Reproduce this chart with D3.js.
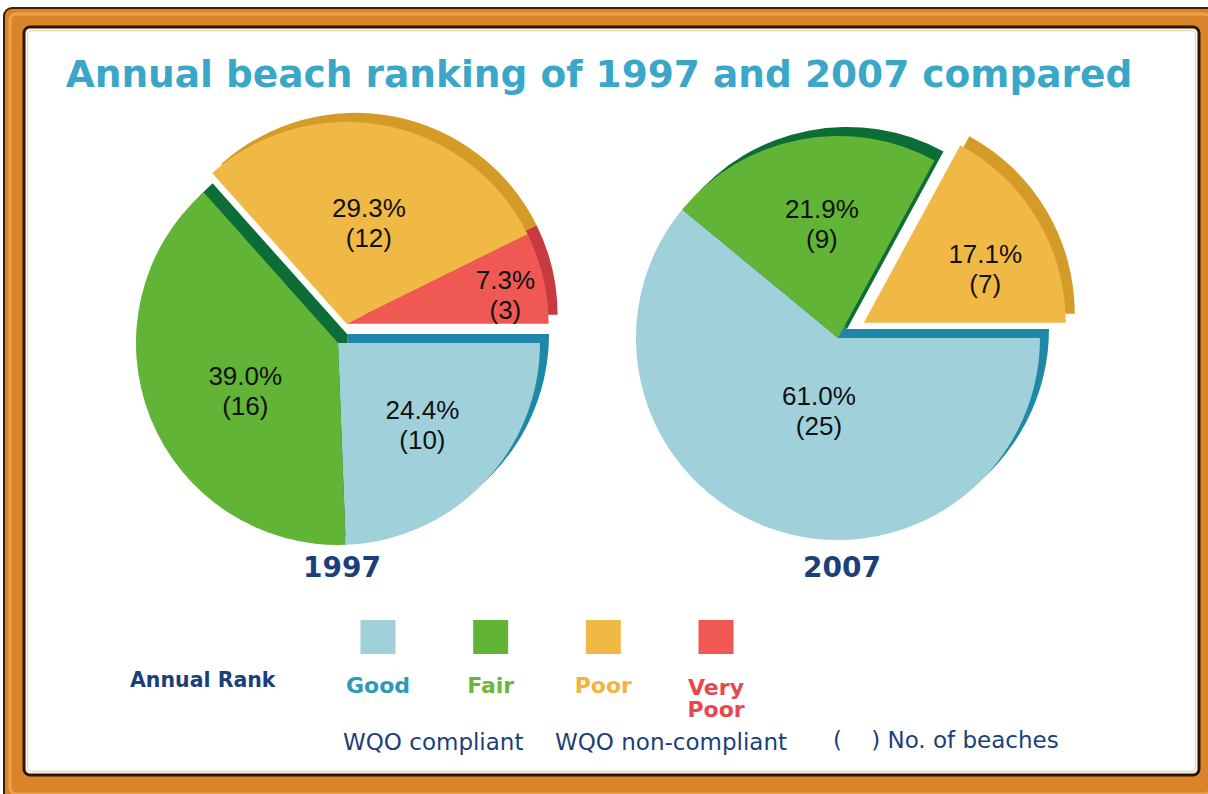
<!DOCTYPE html>
<html><head><meta charset="utf-8">
<script src="https://cdn.jsdelivr.net/npm/d3@7"></script>
<style>body{margin:0;background:#fff}svg{display:block}</style>
</head><body>
<script>
// ---- data ----
const title = "Annual beach ranking of 1997 and 2007 compared";
const categories = ["Good", "Fair", "Poor", "Very Poor"];
const years = ["1997", "2007"];
const percents1997 = [24.4, 39.0, 29.3, 7.3];
const counts1997 = [10, 16, 12, 3];
const percents2007 = [61.0, 21.9, 17.1, 0];
const counts2007 = [25, 9, 7, 0];
const nonCompliant = ["Poor", "Very Poor"];
const compliance = ["WQO compliant", "WQO non-compliant"];
const legendTitle = "Annual Rank";
const countNote = "(    ) No. of beaches";

// ---- styles / layout ----
const W = 1208, H = 794;
const fillColor = d3.scaleOrdinal().domain(categories).range(["#a0d0da", "#62b436", "#f0b845", "#ef5853"]);
const sideColor = d3.scaleOrdinal().domain(categories).range(["#1f87a7", "#0d6d36", "#d49b27", "#c63a40"]);
const legendColor = d3.scaleOrdinal().domain(categories).range(["#2d9bb8", "#6cb63b", "#f2b43a", "#e8474d"]);
const navy = "#1b3f7a";
const R = 202, depth = 9;
// label placement per category: [radius factor, angle nudge in degrees]
const pieLayout = [
  {cx: 338, cy: 343, explode: 21, label: [[0.58, 0], [0.515, -5], [0.515, 1.4], [0.80, 2.5]]},
  {cx: 838, cy: 338, explode: 30, label: [[0.37, -5], [0.575, 3], [0.66, 6.4], [0.6, 0]]}
];
const pieData = [
  {year: years[0], pct: percents1997, cnt: counts1997},
  {year: years[1], pct: percents2007, cnt: counts2007}
];

const svg = d3.select("body").append("svg").attr("width", W).attr("height", H);

// ---- frame ----
svg.append("rect").attr("x", 4).attr("y", 8).attr("width", 1214).attr("height", 800).attr("rx", 8)
  .attr("fill", "#d9842b").attr("stroke", "#3b2008").attr("stroke-width", 2);
svg.append("rect").attr("x", 10).attr("y", 14).attr("width", 1200).attr("height", 780).attr("rx", 6)
  .attr("fill", "none").attr("stroke", "#efaa56").attr("stroke-width", 3).attr("opacity", 0.8);
svg.append("rect").attr("x", 24).attr("y", 27).attr("width", 1175).attr("height", 748).attr("rx", 6)
  .attr("fill", "#fff").attr("stroke", "#2a1606").attr("stroke-width", 3);
svg.append("rect").attr("x", 27.5).attr("y", 30.5).attr("width", 1168).attr("height", 741).attr("rx", 4)
  .attr("fill", "none").attr("stroke", "#f3d6a6").attr("stroke-width", 1.5);

// ---- title ----
svg.append("text").attr("x", 599).attr("y", 87).attr("text-anchor", "middle")
  .attr("font-family", "DejaVu Sans").attr("font-weight", "bold").attr("font-size", 37.5)
  .attr("fill", "#3aa7c9").text(title);

// ---- pies ----
const pie = d3.pie().sort(null).value(d => d.count).startAngle(Math.PI / 2).endAngle(Math.PI / 2 + 2 * Math.PI);
const arc = d3.arc().innerRadius(0).outerRadius(R);

pieData.forEach((pd, i) => {
  const L = pieLayout[i];
  const rows = categories.map((c, k) => ({cat: c, pct: pd.pct[k], count: pd.cnt[k], idx: k})).filter(d => d.count > 0);
  const arcs = pie(rows);
  const grp = arcs.filter(a => nonCompliant.includes(a.data.cat));
  const gm = (d3.min(grp, a => a.startAngle) + d3.max(grp, a => a.endAngle)) / 2;
  const ex = Math.sin(gm) * L.explode, ey = -Math.cos(gm) * L.explode;
  const off = a => nonCompliant.includes(a.data.cat) ? [ex, ey] : [0, 0];

  const g = svg.append("g").attr("transform", `translate(${L.cx},${L.cy})`);
  g.selectAll("path.side").data(arcs).join("path").attr("class", "side")
    .attr("d", arc).attr("fill", d => sideColor(d.data.cat))
    .attr("transform", d => { const o = off(d); return `translate(${o[0] + depth},${o[1] - depth})`; });
  g.selectAll("path.face").data(arcs).join("path").attr("class", "face")
    .attr("d", arc).attr("fill", d => fillColor(d.data.cat))
    .attr("transform", d => { const o = off(d); return `translate(${o[0]},${o[1]})`; });
  arcs.forEach(a => {
    const o = off(a);
    const lp = L.label[a.data.idx];
    const m = (a.startAngle + a.endAngle) / 2 + lp[1] * Math.PI / 180;
    const r = R * lp[0];
    const x = o[0] + Math.sin(m) * r, y = o[1] - Math.cos(m) * r;
    const t = g.append("text").attr("text-anchor", "middle")
      .attr("font-family", "Liberation Sans, Arial").attr("font-size", 26).attr("fill", "#111");
    t.append("tspan").attr("x", x).attr("y", y - 5).text(d3.format(".1f")(a.data.pct) + "%");
    t.append("tspan").attr("x", x).attr("y", y + 25).text(`(${a.data.count})`);
  });
  svg.append("text").attr("x", L.cx + 4).attr("y", 577).attr("text-anchor", "middle")
    .attr("font-family", "DejaVu Sans").attr("font-weight", "bold").attr("font-size", 28)
    .attr("fill", navy).text(pd.year);
});

// ---- legend ----
const lx = d3.scalePoint().domain(categories).range([378, 716]);
svg.selectAll("rect.leg").data(categories).join("rect").attr("class", "leg")
  .attr("x", d => lx(d) - 17.5).attr("y", 620).attr("width", 35).attr("height", 34)
  .attr("fill", d => fillColor(d));
categories.forEach(c => {
  const words = c.split(" ");
  const t = svg.append("text").attr("text-anchor", "middle").attr("font-family", "DejaVu Sans")
    .attr("font-weight", "bold").attr("font-size", 22).attr("fill", legendColor(c));
  words.forEach((w, j) => {
    t.append("tspan").attr("x", lx(c)).attr("y", (words.length > 1 ? 695 : 693) + j * 22).text(w);
  });
});
svg.append("text").attr("x", 130).attr("y", 687).attr("font-family", "DejaVu Sans")
  .attr("font-weight", "bold").attr("font-size", 20.5).attr("fill", navy).text(legendTitle);
svg.append("text").attr("x", 343).attr("y", 750).attr("font-family", "DejaVu Sans")
  .attr("font-size", 23).attr("fill", navy).text(compliance[0]);
svg.append("text").attr("x", 555).attr("y", 750).attr("font-family", "DejaVu Sans")
  .attr("font-size", 23).attr("fill", navy).text(compliance[1]);
svg.append("text").attr("x", 833).attr("y", 748).attr("font-family", "DejaVu Sans")
  .attr("font-size", 23).attr("fill", navy).attr("xml:space", "preserve").style("white-space", "pre").text(countNote);
</script>
</body></html>
